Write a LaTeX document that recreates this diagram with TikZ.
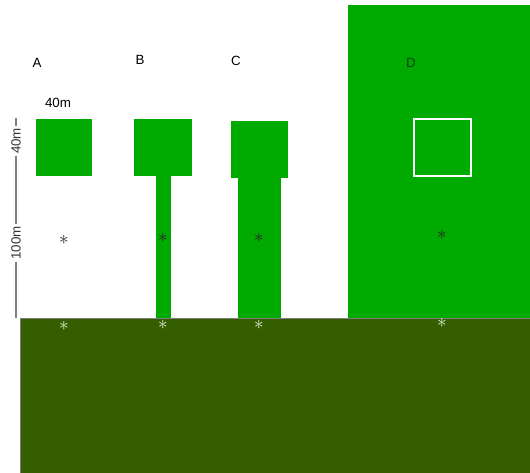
\documentclass[tikz,border=0pt]{standalone}
\usepackage{fontspec}
\setmainfont{Liberation Sans}
\definecolor{leaf}{RGB}{0,170,0}
\definecolor{soil}{RGB}{53,94,0}
\definecolor{darkleaf}{RGB}{10,70,10}
\definecolor{frost}{RGB}{225,240,210}

\begin{document}
\begin{tikzpicture}[x=0.75pt,y=-0.75pt,font=\fontsize{10}{12}\selectfont,
  lbl/.style={inner sep=1pt},
  dimlbl/.style={rotate=90,inner sep=1.5pt,text=black!80},
  darkast/.style={text=black!85,inner sep=0pt,font=\fontsize{15}{15}\selectfont},
  lightast/.style={text=frost,inner sep=0pt,font=\fontsize{15}{15}\selectfont}]
  \useasboundingbox (0,0) rectangle (530,473);
  % stand D
  \fill[leaf] (348,5) rectangle (530,318);
  \draw[white,line width=1.6pt] (414,119) rectangle (471,176);
  % plots A, B, C
  \fill[leaf] (36,119) rectangle (92,176);
  \fill[leaf] (134,119) rectangle (192,176);
  \fill[leaf] (156,176) rectangle (171,318);
  \fill[leaf] (231,121) rectangle (288,178);
  \fill[leaf] (238,178) rectangle (281,318);
  % ground
  \fill[soil] (20,318) rectangle (530,473);
  \draw[gray,line width=0.5pt] (20,473) -- (20,318) -- (530,318);
  \node[lbl] (labA) at (37,63) {A};
  \node[lbl] (labB) at (140,60) {B};
  \node[lbl] (labC) at (236,61) {C};
  \node[lbl,text=darkleaf] (labD) at (411,63) {D};
  \node[lbl] (wide) at (58,103) {40m};
  % height scale
  \coordinate (scaletop) at (16,118);
  \coordinate (scalebot) at (16,318);
  \node[dimlbl] (high) at (16,141) {40m};
  \node[dimlbl] (low) at (16,243) {100m};
  \draw[gray,line width=0.8pt] (scaletop) -- (high) (high) -- (low) (low) -- (scalebot);
  \foreach \x/\ya/\yb [count=\i] in {64/240/326,163/238/325,259/238/325,442/235/323} {
    \node[darkast] (up\i) at (\x,\ya) {$\ast$};
    \node[lightast] (down\i) at (\x,\yb) {$\ast$};
  }
\end{tikzpicture}
\end{document}
